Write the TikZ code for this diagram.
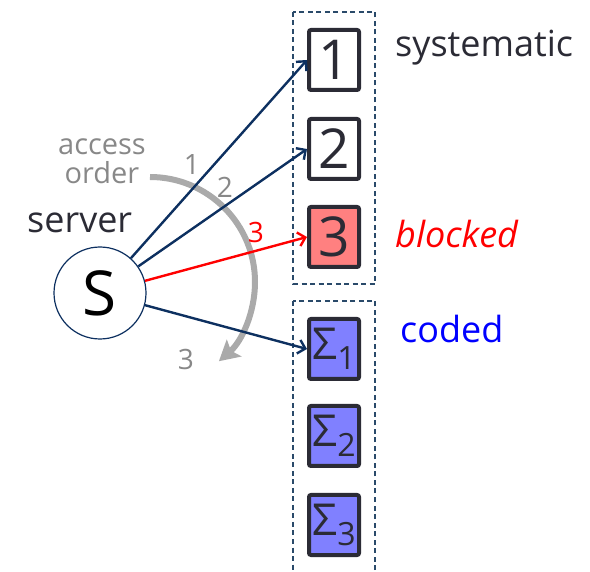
\documentclass[tikz,border=0pt]{standalone}
\usepackage{fontspec}
\setmainfont{Open Sans}
\usetikzlibrary{arrows.meta}
\definecolor{navy}{HTML}{0D3060}
\definecolor{boxline}{HTML}{2B2B35}
\definecolor{dashc}{HTML}{2A4A6A}
\definecolor{txtgray}{HTML}{888888}
\definecolor{arcgray}{HTML}{AAAAAA}
\definecolor{sysfill}{HTML}{FF8080}
\definecolor{codefill}{HTML}{8080FF}
\newcommand{\fs}[1]{\fontsize{#1}{#1}\selectfont}
\begin{document}
\begin{tikzpicture}[x=1pt,y=1pt,
  blockbox/.style={draw=boxline, line width=4pt, rounded corners=2pt,
    minimum width=50pt, minimum height=60pt, inner sep=0pt, fill=white,
    font=\fs{55}, text=boxline},
  sigmabox/.style={blockbox, fill=codefill, font=\fs{44}},
  groupbox/.style={draw=dashc, dash pattern=on 5pt off 3.5pt, line width=1.4pt},
  link/.style={draw=navy, line width=2.4pt, -{Straight Barb[length=7pt,width=14pt]}},
  edgelabel/.style={font=\fs{28}, text=txtgray},
  captxt/.style={anchor=base, font=\fs{29}, text=txtgray, inner sep=0pt}]
\useasboundingbox (0,0) rectangle (590,-572);

% group frames
\draw[groupbox] (293,-12) rectangle (375,-284);
\draw[groupbox] (293,-301) rectangle (375,-590);

% systematic blocks
\node[blockbox] (b1) at (334,-60) {1};
\node[blockbox] (b2) at (334,-149) {2};
\node[blockbox, fill=sysfill] (b3) at (334,-237) {3};

% coded blocks
\node[sigmabox] (c1) at (334,-349) {Σ\raisebox{-0.22em}{\fs{32}1}};
\node[sigmabox] (c2) at (334,-436) {Σ\raisebox{-0.22em}{\fs{32}2}};
\node[sigmabox] (c3) at (334,-525) {Σ\raisebox{-0.22em}{\fs{32}3}};

% side captions
\node[anchor=base west, font=\fs{36}, text=boxline, inner sep=0pt] (sys) at (395,-57) {systematic};
\node[anchor=base west, font=\fs{36}\itshape, text=red, inner sep=0pt] (blk) at (395,-248) {blocked};
\node[anchor=base west, font=\fs{36}, text=blue, inner sep=0pt] (cod) at (400,-343) {coded};

% server
\node[circle, draw=navy, line width=1.2pt, minimum size=92pt, inner sep=0pt,
  font=\fs{62}] (S) at (100,-293) {S};
\node[anchor=base west, font=\fs{36}, text=boxline, inner sep=0pt] (srv) at (27,-233) {server};

% access order arc
\node[captxt] (acc1) at (102,-155) {access};
\node[captxt] (acc2) at (102,-184) {order};
\coordinate (arcstart) at (150,-177);
\draw[arcgray, line width=6pt, -{Stealth[length=20pt,width=22pt,inset=4pt]}]
  (arcstart) arc[start angle=90, end angle=-49, radius=105pt];

% connectors
\draw[link] (S) -- (b1.west);
\draw[link] (S) -- (b2.west);
\draw[link, draw=red] (S) -- (b3.west);
\draw[link] (S) -- (c1.west);

% order labels
\node[edgelabel] (l1) at (192,-165) {1};
\node[edgelabel] (l2) at (225,-187) {2};
\node[edgelabel, text=red] (l3) at (256,-233) {3};
\node[edgelabel] (l4) at (186,-360) {3};
\end{tikzpicture}
\end{document}
